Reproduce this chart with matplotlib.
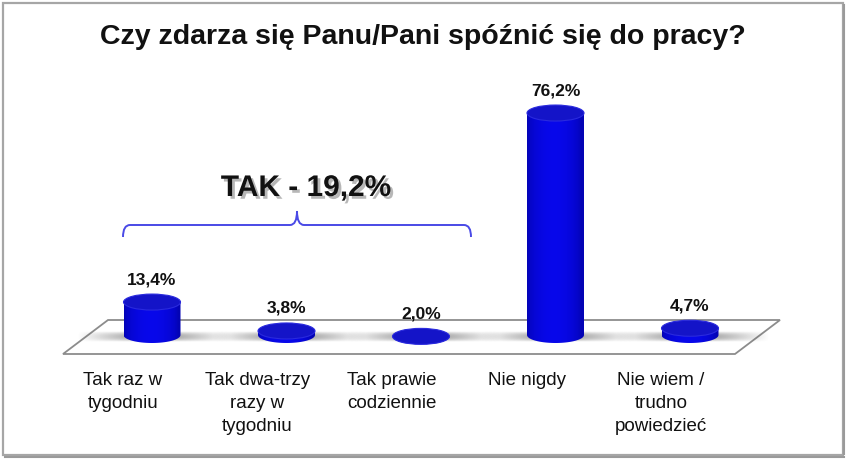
import numpy as np
import matplotlib
matplotlib.use("Agg")
import matplotlib.pyplot as plt
from matplotlib.patches import Ellipse, PathPatch, Polygon, Rectangle
from matplotlib.path import Path
import matplotlib.patheffects as pe

# ---------------- data ----------------
title = "Czy zdarza się Panu/Pani spóźnić się do pracy?"
categories = ["Tak raz w\ntygodniu", "Tak dwa-trzy\nrazy w\ntygodniu",
              "Tak prawie\ncodziennie", "Nie nigdy", "Nie wiem /\ntrudno\npowiedzieć"]
values = [13.4, 3.8, 2.0, 76.2, 4.7]
group_label = "TAK - 19,2%"
group_members = [0, 1, 2]

W, H = 846, 459
fig = plt.figure(figsize=(W / 100, H / 100), dpi=100)
fig.patch.set_facecolor("white")

# layout (pixels)
X0, DX = 152.0, 134.5      # bar centre of first category, spacing
Y0, SY = 342.4, 3.01       # pixel row of value 0, pixels per percent

ax = fig.add_axes([0, 0, 1, 1])
ax.set_xlim(-X0 / DX, (W - X0) / DX)
ax.set_ylim((Y0 - H) / SY, Y0 / SY)
ax.axis("off")

def px2x(px):
    return (px - X0) / DX

def py2y(py):
    return (Y0 - py) / SY

# floor
floor = Polygon([(px2x(63), py2y(354)), (px2x(108), py2y(320)),
                 (px2x(780), py2y(320)), (px2x(735), py2y(354))],
                closed=True, facecolor="white", edgecolor="#8c8c8c", lw=1.3, zorder=1)
ax.add_patch(floor)

bar_w = 57 / DX
eh = 16 / SY                # ellipse full height in data units
base_y = py2y(335)

# cylinder colouring
n = 64
t = np.linspace(0, 1, n)
prof = 0.5 + 0.5 * np.sin(np.pi * np.clip(t * 1.05, 0, 1)) ** 0.6
body = np.zeros((1, n, 3))
body[0, :, 2] = 0.5 + 0.42 * prof
body[0, :, 0] = 0.03 * prof
body[0, :, 1] = 0.03 * prof

# shadow image
sx = np.linspace(-1, 1, 80)
sy = np.linspace(-1, 1, 20)
SX, SYY = np.meshgrid(sx, sy)
alpha = np.clip(1 - np.abs(SX) ** 1.2, 0, 1) * np.clip(1 - np.abs(SYY) ** 2, 0, 1) * 0.6
shadow = np.zeros((20, 80, 4))
shadow[..., :3] = 0.3
shadow[..., 3] = alpha

for i, v in enumerate(values):
    cx = i
    # shadow on floor
    ax.imshow(shadow, extent=[cx - 75 / DX, cx + 80 / DX, base_y - 7 / SY, base_y + 4 / SY],
              aspect="auto", interpolation="bilinear", zorder=2)
    yb = min(base_y, v)
    # body path: rectangle + bottom half ellipse
    th = np.linspace(np.pi, 2 * np.pi, 40)
    xs = cx + bar_w / 2 * np.cos(th)
    ys = yb + eh / 2 * np.sin(th)
    verts = [(cx - bar_w / 2, v)] + list(zip(xs, ys)) + [(cx + bar_w / 2, v), (cx - bar_w / 2, v)]
    path = Path(verts)
    clip = PathPatch(path, transform=ax.transData, facecolor="none", edgecolor="none")
    ax.add_patch(clip)
    im = ax.imshow(body, extent=[cx - bar_w / 2, cx + bar_w / 2, yb - eh / 2, v],
                   aspect="auto", interpolation="bilinear", zorder=3)
    im.set_clip_path(clip)
    # top ellipse
    ax.add_patch(Ellipse((cx, v), bar_w, eh, facecolor="#1414c8", edgecolor="#2a2ade",
                         lw=0.8, zorder=4))
    # value label
    ax.text(cx, v + eh / 2 + 7 / SY, f"{v:.1f}%".replace(".", ","), ha="center", va="bottom",
            fontsize=12.5, fontweight="bold", family="Liberation Sans",
            color="#111111", zorder=5)

# category labels
for i, c in enumerate(categories):
    ax.text(i - 29 / DX, py2y(372), c, ha="center", va="top", fontsize=13.5,
            family="Liberation Sans", color="#111111", linespacing=1.45)

# bracket over the "TAK" group
xl = group_members[0] - 29 / DX
xr = group_members[-1] + 50 / DX
xm = (xl + xr) / 2
yl, yend, ytip = py2y(225), py2y(237), py2y(211)
rx, ry = 7 / DX, 12 / SY
bverts = [(xl, yend), (xl, yl), (xl + rx, yl),
          (xm - rx, yl), (xm, yl), (xm, ytip),
          (xm, yl), (xm + rx, yl),
          (xr - rx, yl), (xr, yl), (xr, yend)]
bcodes = [Path.MOVETO, Path.CURVE3, Path.CURVE3,
          Path.LINETO, Path.CURVE3, Path.CURVE3,
          Path.CURVE3, Path.CURVE3,
          Path.LINETO, Path.CURVE3, Path.CURVE3]
ax.add_patch(PathPatch(Path(bverts, bcodes), facecolor="none", edgecolor="#4a4ae6", lw=1.4, zorder=5))
ax.text(xm + 9 / DX, py2y(188), group_label, ha="center", va="center", fontsize=21.5,
        fontweight="bold", family="Liberation Sans", color="#111111", zorder=6,
        path_effects=[pe.SimplePatchShadow(offset=(2, -2), shadow_rgbFace="#888888", alpha=0.6),
                      pe.Normal()])

# title
fig.text(423 / W, 1 - 37 / H, title, ha="center", va="center", fontsize=20.5,
         fontweight="bold", family="Liberation Sans", color="#111111")

# frame
fig.add_artist(Rectangle((3 / W, 1 - 455 / H), 840 / W, 452 / H, transform=fig.transFigure,
                         facecolor="none", edgecolor="#a6a6a6", lw=1.6))
fig.add_artist(plt.Line2D([844 / W, 844 / W], [1 - 454 / H, 1 - 5 / H], transform=fig.transFigure,
                          color="#9a9a9a", lw=1.5))
fig.add_artist(plt.Line2D([5 / W, 844 / W], [1 - 456.5 / H, 1 - 456.5 / H], transform=fig.transFigure,
                          color="#9a9a9a", lw=1.5))

fig.savefig("out.png", dpi=100)
